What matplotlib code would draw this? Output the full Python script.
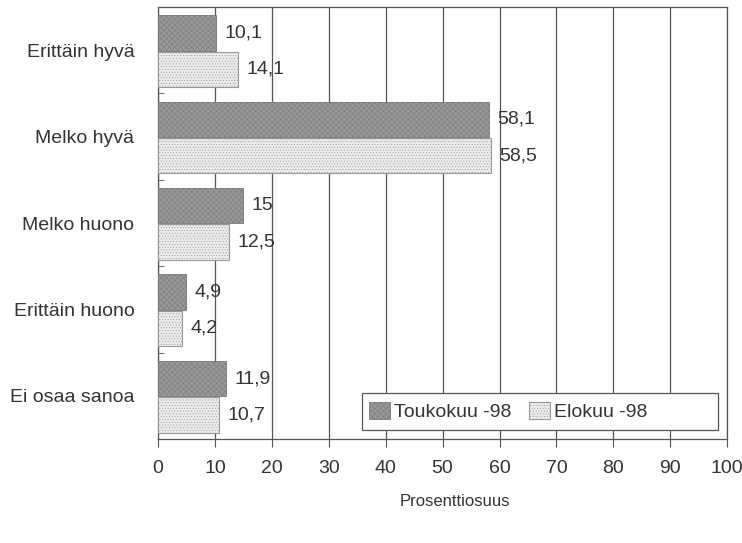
import numpy as np
import matplotlib
matplotlib.use('Agg')
import matplotlib.pyplot as plt
from matplotlib.patches import Rectangle

plt.rcParams['font.family'] = ['Liberation Sans', 'DejaVu Sans']
plt.rcParams['hatch.linewidth'] = 0.35

# data
categories = ['Erittäin hyvä', 'Melko hyvä', 'Melko huono', 'Erittäin huono', 'Ei osaa sanoa']
toukokuu = [10.1, 58.1, 15, 4.9, 11.9]
elokuu = [14.1, 58.5, 12.5, 4.2, 10.7]
series_names = ['Toukokuu -98', 'Elokuu -98']
xticks = list(range(0, 101, 10))

def fmt(v):
    s = ('%.1f' % v).rstrip('0').rstrip('.')
    return s.replace('.', ',')

fig = plt.figure(figsize=(7.42, 5.43), dpi=100)
ax = fig.add_axes([0.213, 0.1915, 0.767, 0.7955])

y = np.arange(len(categories))
h = 0.41
ax.barh(y - 0.2, toukokuu, height=h, color='#999999', edgecolor='#777777',
        hatch='xxxxxx', linewidth=0.6, label=series_names[0], zorder=3)
ax.barh(y + 0.22, elokuu, height=h, color='#ebebeb', edgecolor='#999999',
        hatch='......', linewidth=0.8, label=series_names[1], zorder=3)

for i in range(len(categories)):
    ax.text(toukokuu[i] + 1.5, y[i] - 0.2, fmt(toukokuu[i]), va='center', ha='left',
            fontsize=14, color='#333333')
    ax.text(elokuu[i] + 1.5, y[i] + 0.22, fmt(elokuu[i]), va='center', ha='left',
            fontsize=14, color='#333333')

ax.set_xlim(0, 100)
ax.set_ylim(len(categories) - 0.5, -0.5)
ax.set_xticks(xticks)
ax.set_xticklabels([str(t) for t in xticks], fontsize=14, color='#333333')
ax.set_yticks(y)
ax.set_yticklabels(categories, fontsize=14, color='#333333')
ax.set_yticks(np.arange(len(categories) + 1) - 0.5, minor=True)
ax.tick_params(axis='y', which='major', length=0, pad=17)
ax.tick_params(axis='y', which='minor', length=4, direction='in', color='#555555')
ax.tick_params(axis='x', length=6, direction='out', pad=9, color='#555555')
ax.xaxis.grid(True, color='#555555', linewidth=0.9, zorder=0)
ax.set_axisbelow(True)
for sp in ax.spines.values():
    sp.set_color('#555555')
    sp.set_linewidth(0.9)

# legend box is wider than its entries in the original
ax.add_patch(Rectangle((0.3585, 0.021), 0.6255, 0.086, transform=ax.transAxes,
                       facecolor='white', edgecolor='#555555', linewidth=0.9, zorder=5))
leg = ax.legend(loc='center left', bbox_to_anchor=(0.37, 0.064), ncol=2, fontsize=14,
                frameon=False, handlelength=1.1, handleheight=1.0, handletextpad=0.2,
                columnspacing=0.9, borderpad=0, borderaxespad=0)
leg.set_zorder(6)
for t in leg.get_texts():
    t.set_color('#333333')

fig.text(455 / 742, 1 - 502 / 543, 'Prosenttiosuus', ha='center', va='center',
         fontsize=12, color='#333333')

fig.savefig('out.png', dpi=100)
